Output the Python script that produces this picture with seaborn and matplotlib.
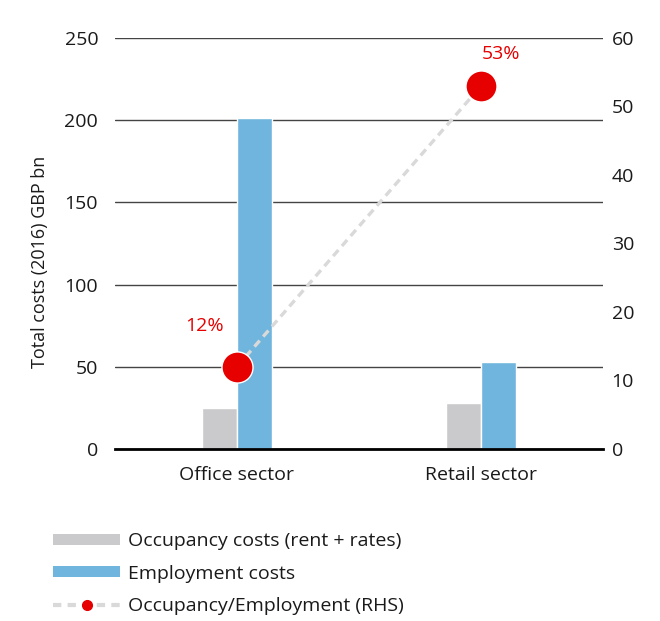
import matplotlib
matplotlib.use("Agg")
import matplotlib.pyplot as plt
import seaborn as sns
import pandas as pd
from matplotlib.patches import Patch
from matplotlib.lines import Line2D

sectors = ["Office sector", "Retail sector"]
occupancy = [25, 28]
employment = [201, 53]
ratio = [12, 53]
series_names = ["Occupancy costs (rent + rates)", "Employment costs", "Occupancy/Employment (RHS)"]

sns.set_theme(style="white")
plt.rcParams["font.family"] = ["Open Sans", "DejaVu Sans"]

GRAY = "#CACACC"
BLUE = "#6FB5DD"
RED = "#E60000"
LINE = "#D9D9D9"
TXT = "#1a1a1a"
FS = 14

df = pd.DataFrame({
    "sector": sectors * 2,
    "series": [series_names[0]] * 2 + [series_names[1]] * 2,
    "value": occupancy + employment,
})

fig = plt.figure(figsize=(6.6, 6.21), dpi=100)
ax = fig.add_axes([0.174, 0.277, 0.740, 0.662])

sns.barplot(data=df, x="sector", y="value", hue="series", ax=ax,
            palette=[GRAY, BLUE], width=0.285, dodge=True,
            edgecolor="white", linewidth=1, legend=False, saturation=1)

ax.set_xlim(-0.5, 1.5)
ax.set_ylim(0, 250)
ax.set_yticks(range(0, 251, 50))
ax.yaxis.grid(True, color="#444444", linewidth=1)
ax.set_axisbelow(True)
for s in ["left", "right", "top"]:
    ax.spines[s].set_visible(False)
ax.spines["bottom"].set_color("black")
ax.spines["bottom"].set_linewidth(2)
ax.tick_params(axis="y", length=0, labelsize=FS, colors=TXT, pad=12)
ax.tick_params(axis="x", length=0, labelsize=FS, colors=TXT, pad=12)
ax.set_xlabel("")
ax.set_ylabel("Total costs (2016) GBP bn", fontsize=13, color=TXT)
ax.yaxis.set_label_coords(-0.135, 0.455)

ax2 = ax.twinx()
ldf = pd.DataFrame({"x": [0, 1], "y": ratio})
ax2.plot(ldf["x"], ldf["y"], color=LINE, linewidth=2.4, dashes=(2.4, 1.6), zorder=3)
ax2.scatter(ldf["x"], ldf["y"], s=500, color=RED, edgecolor="white", linewidth=1.0, zorder=4)
ax2.set_ylim(0, 60)
ax2.set_yticks(range(0, 61, 10))
for s in ["left", "right", "top", "bottom"]:
    ax2.spines[s].set_visible(False)
ax2.tick_params(axis="y", length=0, labelsize=FS, colors=TXT, pad=6)
ax2.set_ylabel("")

ax2.annotate(f"{ratio[0]}%", (0, ratio[0]), xytext=(-23, 29), textcoords="offset points",
             ha="center", va="center", color=RED, fontsize=FS)
ax2.annotate(f"{ratio[1]}%", (1, ratio[1]), xytext=(14, 23), textcoords="offset points",
             ha="center", va="center", color=RED, fontsize=FS)

handles = [
    Patch(facecolor=GRAY, edgecolor="none"),
    Patch(facecolor=BLUE, edgecolor="none"),
    Line2D([0], [0], color=LINE, linewidth=3, dashes=(2, 1.5),
           marker="o", markersize=7, markerfacecolor=RED, markeredgecolor=RED),
]
fig.legend(handles, series_names, loc="upper left", bbox_to_anchor=(0.054, 0.171),
           frameon=False, fontsize=FS, handlelength=3.45, handleheight=0.5,
           labelspacing=0.74, handletextpad=0.4, labelcolor=TXT)

fig.savefig("out.png", dpi=100)
